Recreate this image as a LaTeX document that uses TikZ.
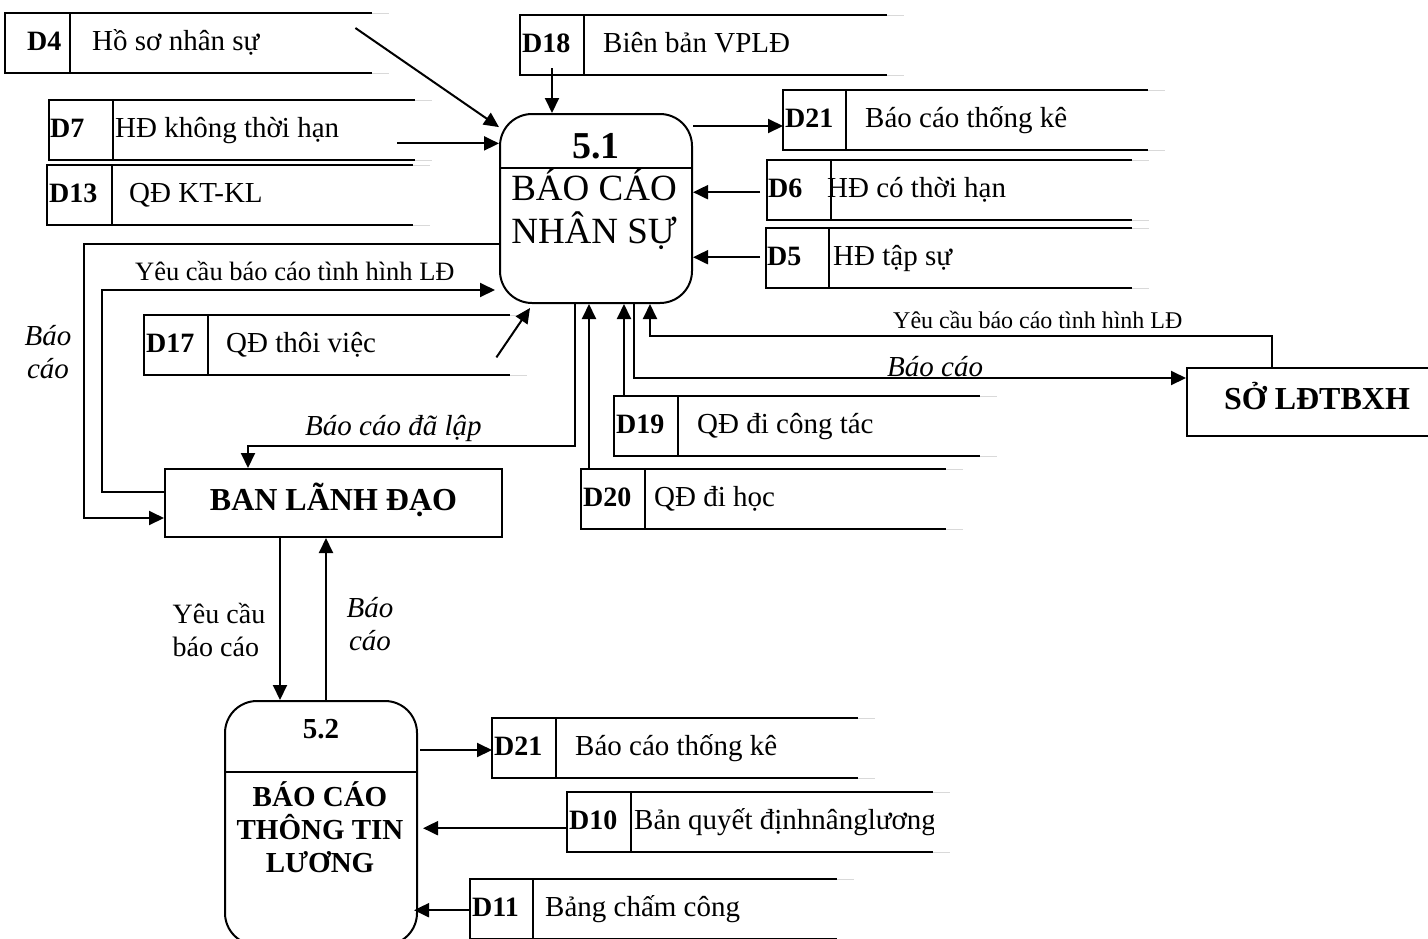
\documentclass[tikz,border=0pt]{standalone}
\usepackage{fontspec}
\setmainfont{Liberation Serif}
\usetikzlibrary{arrows.meta,positioning,calc}

% data store: name, left, top, divider, right end, id, id x, label x, label
\newcommand{\store}[9]{%
  \node[storebox, minimum width={(#5-#2)*1pt}, anchor=north west] (#1) at (#2,#3) {};
  \draw[storeline] (#1.north east) -- (#1.north west) -- (#1.south west) -- (#1.south east);
  \draw[storeline] (#4,#3) -- (#4,#3+60);
  \draw[storetail] (#1.north east) -- ++(17,0) (#1.south east) -- ++(17,0);
  \node[idtext] (#1-id) at (#7,#3+37.5) {#6};
  \begin{scope}
    \clip (#1.north west) rectangle (#1.south east);
    \node[storetext] (#1-txt) at (#8,#3+37.5) {#9};
  \end{scope}
}

\begin{document}
\begin{tikzpicture}[
    x=1pt, y=-1pt,
    storebox/.style={rectangle, inner sep=0pt, minimum height=60pt},
    storeline/.style={line width=2pt},
    storetail/.style={line width=1pt, black!15},
    idtext/.style={anchor=base west, inner sep=0pt, font=\fontsize{28}{30}\selectfont\bfseries},
    storetext/.style={anchor=base west, inner sep=0pt, font=\fontsize{29}{31}\selectfont},
    proc/.style={rectangle, draw, line width=2pt, rounded corners=32pt, minimum width=192pt, inner sep=0pt},
    procnum/.style={anchor=base, inner sep=0pt, font=\fontsize{38}{40}\selectfont\bfseries},
    procname/.style={align=center, inner sep=0pt, font=\fontsize{37}{43}\selectfont},
    ext/.style={rectangle, draw, line width=2pt, inner sep=0pt, minimum height=68pt, font=\fontsize{32}{34}\selectfont\bfseries, text height=22.4pt, text depth=8pt},
    flow/.style={line width=2pt, -{Triangle[length=15pt,width=14pt]}},
    lbl/.style={inner sep=0pt, font=\fontsize{29}{33}\selectfont\itshape},
    uprlbl/.style={inner sep=0pt, font=\fontsize{28}{33}\selectfont},
    smalllbl/.style={anchor=base west, inner sep=0pt, font=\fontsize{26.5}{30}\selectfont}
]
    \clip (0,0) rectangle (1428,938);

    % Data stores
    \store{d4}{5}{13}{70}{372}{D4}{27}{92}{Hồ sơ nhân sự}
    \store{d7}{49}{100}{113}{415}{D7}{50}{115}{HĐ không thời hạn}
    \store{d13}{47}{165}{112}{413}{D13}{49}{129}{QĐ KT-KL}
    \store{d18}{520}{15}{584}{887}{D18}{522}{603}{Biên bản VPLĐ}
    \store{d21a}{783}{90}{846}{1148}{D21}{785}{865}{Báo cáo thống kê}
    \store{d6}{767}{160}{831}{1132}{D6}{768}{827}{HĐ có thời hạn}
    \store{d5}{766}{228}{829}{1132}{D5}{767}{833}{HĐ tập sự}
    \store{d17}{144}{315}{208}{510}{D17}{146}{226}{QĐ thôi việc}
    \store{d19}{614}{396}{678}{980}{D19}{616}{697}{QĐ đi công tác}
    \store{d20}{581}{469}{645}{946}{D20}{583}{654}{QĐ đi học}
    \store{d21b}{492}{718}{556}{858}{D21}{494}{575}{Báo cáo thống kê}
    \store{d10}{567}{792}{631}{933}{D10}{569}{634}{Bản quyết địnhnânglương}
    \store{d11}{470}{879}{533}{837}{D11}{472}{545}{Bảng chấm công}

    % Process 5.1
    \node[proc, minimum height=189pt] (p51) at (596,208.5) {};
    \coordinate (p51sep) at (596,168);
    \draw[line width=2pt] (p51sep -| p51.west) -- (p51sep -| p51.east);
    \node[procnum] (p51-num) at (596,158) {5.1};
    \node[procname] (p51-name) at (594,209) {BÁO CÁO\\NHÂN SỰ};

    % Process 5.2
    \node[proc, minimum height=244pt] (p52) at (321,823) {};
    \coordinate (p52sep) at (321,772);
    \draw[line width=2pt] (p52sep -| p52.west) -- (p52sep -| p52.east);
    \node[procnum, font=\fontsize{29}{30}\selectfont\bfseries] (p52-num) at (321,738) {5.2};
    \node[procname, font=\fontsize{29}{33}\selectfont\bfseries] (p52-name) at (320,827) {BÁO CÁO\\THÔNG TIN\\LƯƠNG};

    % External entities
    \node[ext, minimum width=337pt] (bld) at (333.5,503) {BAN LÃNH ĐẠO};
    \node[ext, minimum width=260pt] (so) at (1317,402) {SỞ LĐTBXH};

    % Inputs of 5.1
    \draw[flow] ($(d4.north east)+(-17,15)$) -- (p51.140);
    \draw[flow] ($(d7.south east)+(-18,-17)$) coordinate (d7out) -- (d7out -| p51.west);
    \draw[flow] ($(d18.south west)+(32,-7)$) coordinate (d18out) -- (d18out |- p51.north);
    \draw[flow] ($(d6.west)+(-7,2)$) coordinate (d6out) -- (d6out -| p51.east);
    \draw[flow] ($(d5.west)+(-6,-1)$) coordinate (d5out) -- (d5out -| p51.east);
    \draw[flow] ($(d17.south east)+(-14,-18)$) -- ($(p51.south west)+(31,4)$);
    \draw[flow] ($(d20.north west)+(8,0)$) coordinate (d20out) -- (d20out |- p51.south);
    \draw[flow] ($(d19.north west)+(10,0)$) coordinate (d19out) -- (d19out |- p51.south);

    % Output of 5.1
    \path ($(p51.north east)+(0,13)$) coordinate (p51out);
    \draw[flow] (p51out) -- (p51out -| d21a.west);

    % 5.1 and BAN LÃNH ĐẠO
    \draw[flow] ($(p51.west)+(0,35.5)$) -- ++(-415,0) |- ($(bld.west)+(0,15)$);
    \node[lbl, align=center] (rptA) at (48,352) {Báo\\cáo};
    \draw[flow] ($(bld.west)+(0,-11)$) -- ++(-62,0) |- ($(p51.south west)+(-4,-14)$);
    \node[smalllbl] (reqA) at (135,280) {Yêu cầu báo cáo tình hình LĐ};
    \draw[flow] ($(p51.south west)+(76,0)$) -- ++(0,142) -| ($(bld.north west)+(84,0)$);
    \node[lbl, anchor=base west] (rptB) at (305,435) {Báo cáo đã lập};

    % 5.1 and SỞ LĐTBXH
    \draw[flow] ($(p51.south west)+(135,0)$) |- ($(so.north west)+(0,11)$);
    \node[lbl, anchor=base west] (rptC) at (887,376) {Báo cáo};
    \draw[flow] ($(so.north west)+(86,0)$) -- ++(0,-31) -| ($(p51.south west)+(151,0)$);
    \node[smalllbl, font=\fontsize{24}{28}\selectfont] (reqB) at (893,328) {Yêu cầu báo cáo tình hình LĐ};

    % BAN LÃNH ĐẠO and 5.2
    \draw[flow] ($(bld.south west)+(116,0)$) coordinate (bldout) -- (bldout |- p52.north);
    \node[uprlbl, align=left] (reqC) at (219,630) {Yêu cầu\\báo cáo};
    \draw[flow] ($(p52.north west)+(102,0)$) coordinate (p52up) -- (p52up |- bld.south);
    \node[lbl, align=center] (rptD) at (370,624) {Báo\\cáo};

    % 5.2 stores
    \draw[flow] ($(p52.north east)+(2,50)$) coordinate (p52out) -- (p52out -| d21b.west);
    \draw[flow] ($(d10.west)+(0,6)$) coordinate (d10out) -- ($(d10out -| p52.east)+(5,0)$);
    \draw[flow] ($(d11.west)+(0,1)$) coordinate (d11out) -- ($(d11out -| p52.east)+(-4,0)$);
\end{tikzpicture}
\end{document}
